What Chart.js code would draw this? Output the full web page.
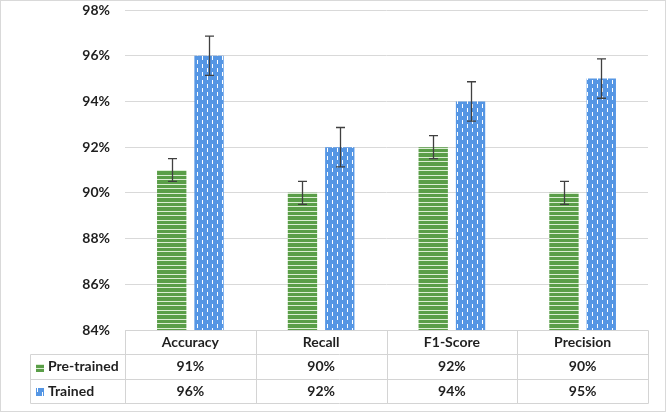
<!DOCTYPE html>
<html>
<head>
<meta charset="utf-8">
<script src="https://cdn.jsdelivr.net/npm/chart.js@4/dist/chart.umd.min.js"></script>
<style>
html,body{margin:0;padding:0;background:#fff;}
#wrap{width:667px;height:413px;position:relative;}
</style>
</head>
<body>
<div id="wrap"><canvas id="c" width="667" height="413"></canvas></div>
<script>
const categories = ['Accuracy', 'Recall', 'F1-Score', 'Precision'];
const seriesNames = ['Pre-trained', 'Trained'];
const preTrained = [91, 90, 92, 90];
const trained = [96, 92, 94, 95];
const preTrainedErr = [0.5, 0.5, 0.5, 0.5];
const trainedErr = [0.86, 0.86, 0.86, 0.86];
const yMin = 84, yMax = 98, yStep = 2;

const FONT = 'Lato, "Open Sans", sans-serif';
const GREEN = '#5a9e48';
const BLUE = '#5596e4';

function makePattern(kind) {
  const c = document.createElement('canvas');
  const g = c.getContext('2d');
  if (kind === 'h') {
    c.width = 8; c.height = 9;
    g.fillStyle = GREEN; g.fillRect(0, 0, 8, 9);
    g.fillStyle = '#dbeed3';
    g.fillRect(0, 4, 8, 1); g.fillRect(0, 8, 8, 1);
  } else {
    c.width = 10; c.height = 8;
    g.fillStyle = BLUE; g.fillRect(0, 0, 10, 8);
    g.fillStyle = '#ffffff';
    g.fillRect(2, 0, 1, 4); g.fillRect(7, 4, 1, 4);
  }
  return g.createPattern(c, 'repeat');
}
const ctx = document.getElementById('c').getContext('2d');
const greenPat = makePattern('h');
const bluePat = makePattern('v');
const errs = [preTrainedErr, trainedErr];
const pats = [greenPat, bluePat];

const errorBarPlugin = {
  id: 'errbars',
  afterDatasetsDraw(chart) {
    const g = chart.ctx, y = chart.scales.y;
    g.save();
    g.strokeStyle = '#404040';
    g.lineWidth = 1.3;
    chart.data.datasets.forEach((ds, di) => {
      const meta = chart.getDatasetMeta(di);
      meta.data.forEach((bar, i) => {
        const v = ds.data[i], e = errs[di][i];
        const yt = y.getPixelForValue(v + e), yb = y.getPixelForValue(v - e);
        const x = Math.round(bar.x) + 0.5;
        g.beginPath();
        g.moveTo(x, yt); g.lineTo(x, yb);
        g.moveTo(x - 4.5, yt); g.lineTo(x + 4.5, yt);
        g.moveTo(x - 4.5, yb); g.lineTo(x + 4.5, yb);
        g.stroke();
      });
    });
    g.restore();
  }
};

const tablePlugin = {
  id: 'datatable',
  afterDraw(chart) {
    const g = chart.ctx, ca = chart.chartArea, xs = chart.scales.x;
    const n = categories.length;
    const cw = (ca.right - ca.left) / n;
    const top = ca.bottom, r1 = top + 24, r2 = r1 + 25, r3 = r2 + 24;
    const legLeft = 30.5;
    g.save();
    g.strokeStyle = '#d4d4d4';
    g.lineWidth = 1;
    const L = Math.round(ca.left) + 0.5, R = Math.round(ca.right) + 0.5;
    g.beginPath();
    g.moveTo(L, Math.round(top) + 0.5); g.lineTo(R, Math.round(top) + 0.5);
    [r1, r2, r3].forEach(yy => { g.moveTo(legLeft, Math.round(yy) + 0.5); g.lineTo(R, Math.round(yy) + 0.5); });
    for (let i = 0; i <= n; i++) {
      const xx = Math.round(ca.left + i * cw) + 0.5;
      g.moveTo(xx, Math.round(top) + 0.5); g.lineTo(xx, Math.round(r3) + 0.5);
    }
    g.moveTo(legLeft, Math.round(r1) + 0.5); g.lineTo(legLeft, Math.round(r3) + 0.5);
    g.stroke();

    g.fillStyle = '#1f1f1f';
    g.font = 'bold 14px ' + FONT;
    g.textAlign = 'center';
    g.textBaseline = 'middle';
    categories.forEach((c, i) => {
      const cx = xs.getPixelForValue(i);
      g.fillText(c, cx, (top + r1) / 2);
      g.fillText(preTrained[i] + '%', cx, (r1 + r2) / 2);
      g.fillText(trained[i] + '%', cx, (r2 + r3) / 2);
    });
    g.textAlign = 'left';
    const rows = [(r1 + r2) / 2, (r2 + r3) / 2];
    seriesNames.forEach((s, i) => {
      g.fillStyle = pats[i];
      g.fillRect(36, Math.round(rows[i]) - 3, 8, 8);
      g.fillStyle = '#1f1f1f';
      g.fillText(s, 48, rows[i]);
    });
    g.strokeStyle = '#d9d9d9';
    g.strokeRect(0.5, 0.5, 665, 411);
    g.restore();
  }
};

new Chart(ctx, {
  type: 'bar',
  data: {
    labels: categories,
    datasets: [
      { label: seriesNames[0], data: preTrained, backgroundColor: greenPat, borderWidth: 0 },
      { label: seriesNames[1], data: trained, backgroundColor: bluePat, borderWidth: 0 }
    ]
  },
  options: {
    responsive: false,
    animation: false,
    events: [],
    categoryPercentage: 0.571,
    barPercentage: 0.786,
    layout: { padding: { top: 0, right: 19, bottom: 83, left: 0 } },
    plugins: { legend: { display: false }, tooltip: { enabled: false } },
    scales: {
      x: { display: false },
      y: {
        min: yMin, max: yMax,
        border: { display: false },
        grid: { color: '#d9d9d9', drawTicks: false, lineWidth: 1 },
        afterFit(scale) { scale.width = 125; scale.paddingTop = 10; scale.paddingBottom = 0; },
        ticks: {
          stepSize: yStep,
          padding: 15,
          color: '#1f1f1f',
          font: { family: FONT, size: 14, weight: 'bold' },
          callback: v => v + '%'
        }
      }
    }
  },
  plugins: [errorBarPlugin, tablePlugin]
});
</script>
</body>
</html>
